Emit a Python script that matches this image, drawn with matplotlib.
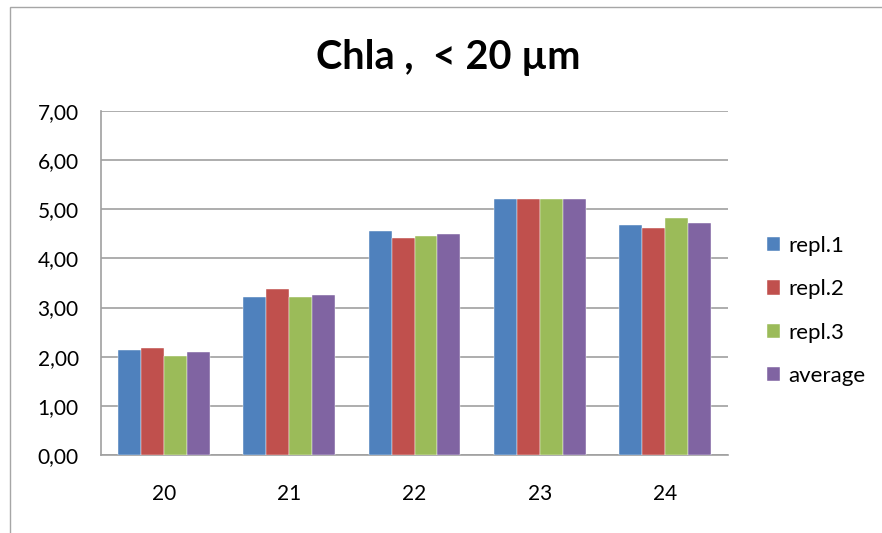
"""Chla < 20 um grouped bar chart (Excel style)."""

import matplotlib
import matplotlib.pyplot as plt
import numpy as np
from matplotlib.patches import Rectangle

matplotlib.use('Agg')

categories = ['20', '21', '22', '23', '24']
repl1 = [2.14, 3.22, 4.56, 5.20, 4.68]
repl2 = [2.18, 3.37, 4.42, 5.20, 4.61]
repl3 = [2.01, 3.22, 4.45, 5.20, 4.82]
average = [2.10, 3.26, 4.50, 5.20, 4.72]
series_names = ['repl.1', 'repl.2', 'repl.3', 'average']
colors = ['#4F81BD', '#C0504D', '#9BBB59', '#8064A2']
y_ticks = [0, 1, 2, 3, 4, 5, 6, 7]

plt.rcParams['font.family'] = ['Lato', 'DejaVu Sans']

fig = plt.figure(figsize=(8.82, 5.33), dpi=100)
# chart-area border (right and bottom edges fall outside the picture)
fig.patches.append(Rectangle((9.5 / 882, -0.1), 1.2, (533 - 7) / 533 + 0.1,
                             transform=fig.transFigure, fill=False,
                             edgecolor='#A6A6A6', linewidth=1.0))

ax = fig.add_axes([101 / 882, 78 / 533, 627 / 882, 344 / 533])

x = np.arange(len(categories))
width = 0.183
for i, (vals, name, col) in enumerate(zip([repl1, repl2, repl3, average], series_names, colors)):
    ax.bar(x + (i - 1.5) * width, vals, width, color=col, label=name,
           edgecolor='white', linewidth=0.3, zorder=3)

ax.set_xlim(-0.5, 4.5)
ax.set_ylim(0, 7)
ax.set_yticks(y_ticks)
ax.set_yticklabels([f'{v:.2f}'.replace('.', ',') for v in y_ticks], fontsize=15)
ax.set_xticks(x)
ax.set_xticklabels(categories, fontsize=15)
ax.tick_params(length=0)
ax.tick_params(axis='x', pad=21)
ax.tick_params(axis='y', pad=16)
ax.yaxis.grid(True, color='#A0A0A0', linewidth=1.2, zorder=0)

for side in ['top', 'right']:
    ax.spines[side].set_visible(False)
for side in ['left', 'bottom']:
    ax.spines[side].set_color('#A0A0A0')
    ax.spines[side].set_linewidth(1.2)

fig.text(448.5 / 882, 1 - 57 / 533, 'Chla ,  < 20 µm', ha='center', va='center',
         fontsize=28.5, fontweight='bold')

ax.legend(loc='center left', bbox_to_anchor=(747 / 882, 1 - 311 / 533),
          bbox_transform=fig.transFigure, frameon=False, fontsize=16,
          handlelength=0.6, handleheight=0.6, labelspacing=1.05, handletextpad=0.36)

fig.savefig('out.png', dpi=100)
plt.close(fig)
